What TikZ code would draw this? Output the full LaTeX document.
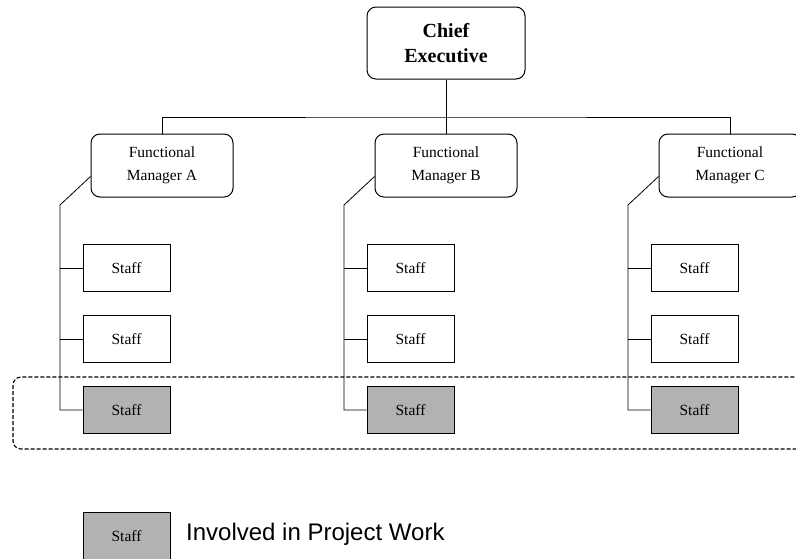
\documentclass[tikz,border=0pt]{standalone}
\usepackage{fontspec}
\setmainfont{Liberation Serif}
\newfontfamily\legendfont{Liberation Sans}
\usepackage{tikz}

\tikzset{
  chiefbox/.style={draw, line width=1pt, rounded corners=9pt, minimum width=158pt, minimum height=72pt, inner sep=0pt, align=center, font=\fontsize{20}{25}\selectfont\bfseries},
  mgrbox/.style={draw, line width=1pt, rounded corners=9pt, minimum width=142pt, minimum height=63pt, inner sep=0pt, align=center, font=\fontsize{15.5}{23}\selectfont},
  staffbox/.style={draw, line width=1pt, minimum width=87pt, minimum height=47pt, inner sep=0pt, font=\fontsize{15.5}{18}\selectfont},
  projbox/.style={staffbox, fill=black!30},
  link/.style={line width=0.8pt}
}

\begin{document}
\begin{tikzpicture}[x=1pt, y=-1pt]
            \clip (0,0) rectangle (796,558);
            % Chief
            \node[chiefbox] (chief) at (446,43) {Chief\\Executive};
            \coordinate (bus) at (446,117);
            % Managers
            \node[mgrbox] (mgrA) at (162,165.5) {Functional\\Manager A};
            \node[mgrbox] (mgrB) at (446,165.5) {Functional\\Manager B};
            \node[mgrbox] (mgrC) at (730,165.5) {Functional\\Manager C};
            \draw[link] (chief) -- (bus);
            \draw[link] (mgrA.north) |- (bus) -| (mgrC.north);
            \draw[link] (bus) -- (mgrB.north);
            % Project team
            \draw[line width=1.1pt, dash pattern=on 4pt off 2pt, rounded corners=8pt] (13,377) rectangle (830,449);
            % Staff under A
            \node[staffbox] (stA1) at (126.5,268) {Staff};
            \node[staffbox] (stA2) at (126.5,339) {Staff};
            \node[projbox] (stA3) at (126.5,410) {Staff};
            \coordinate (spA) at (60,205);
            \draw[link] ([yshift=-11pt]mgrA.west) -- (spA) |- (stA3.west);
            \draw[link] (spA |- stA1.west) -- (stA1.west);
            \draw[link] (spA |- stA2.west) -- (stA2.west);
            % Staff under B
            \node[staffbox] (stB1) at (410.5,268) {Staff};
            \node[staffbox] (stB2) at (410.5,339) {Staff};
            \node[projbox] (stB3) at (410.5,410) {Staff};
            \coordinate (spB) at (344,205);
            \draw[link] ([yshift=-11pt]mgrB.west) -- (spB) |- (stB3.west);
            \draw[link] (spB |- stB1.west) -- (stB1.west);
            \draw[link] (spB |- stB2.west) -- (stB2.west);
            % Staff under C
            \node[staffbox] (stC1) at (694.5,268) {Staff};
            \node[staffbox] (stC2) at (694.5,339) {Staff};
            \node[projbox] (stC3) at (694.5,410) {Staff};
            \coordinate (spC) at (628,205);
            \draw[link] ([yshift=-11pt]mgrC.west) -- (spC) |- (stC3.west);
            \draw[link] (spC |- stC1.west) -- (stC1.west);
            \draw[link] (spC |- stC2.west) -- (stC2.west);
            % Legend
            \node[projbox] (key) at (126.5,536) {Staff};
            \node[anchor=base west, inner sep=0pt, font=\legendfont\fontsize{24}{28}\selectfont] (keytext) at (186,540) {Involved in Project Work};
        \end{tikzpicture}
\end{document}
